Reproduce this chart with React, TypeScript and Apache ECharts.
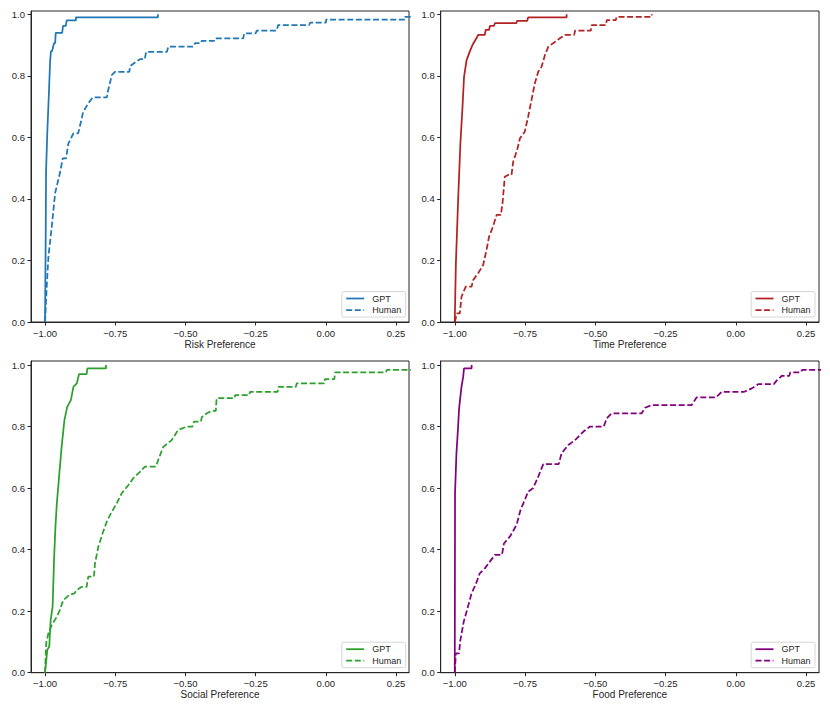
import React, { useEffect, useRef } from "react";
import * as echarts from "echarts";

// ---------- data (polyline vertices) ----------
const xTickValues = [-1.0, -0.75, -0.5, -0.25, 0.0, 0.25];
const yTickValues = [0.0, 0.2, 0.4, 0.6, 0.8, 1.0];
const panelTitles = ["Risk Preference", "Time Preference", "Social Preference", "Food Preference"];
const panelColors = ["#1f77b4", "#b22222", "#2ca02c", "#800080"];
const legendNames = ["GPT", "Human"];

const riskGptX = [-1.0, -0.9975, -0.9964, -0.9918, -0.9858, -0.982, -0.979, -0.975, -0.968, -0.964, -0.962, -0.939, -0.936, -0.926, -0.923, -0.89, -0.89, -0.598, -0.598];
const riskGptY = [0, 0.3, 0.49, 0.62, 0.754, 0.846, 0.88, 0.88, 0.906, 0.906, 0.94, 0.94, 0.962, 0.962, 0.98, 0.98, 0.99, 0.99, 1.0];
const riskHumanX = [-1.0, -0.994, -0.988, -0.976, -0.964, -0.947, -0.937, -0.925, -0.917, -0.905, -0.899, -0.882, -0.875, -0.864, -0.846, -0.83, -0.78, -0.775, -0.762, -0.751, -0.7, -0.697, -0.676, -0.662, -0.645, -0.64, -0.566, -0.561, -0.471, -0.466, -0.445, -0.442, -0.398, -0.395, -0.294, -0.291, -0.25, -0.246, -0.175, -0.17, -0.06, -0.056, 0.0, 0.001, 0.282, 0.282, 0.35];
const riskHumanY = [0, 0.115, 0.212, 0.31, 0.419, 0.484, 0.532, 0.532, 0.58, 0.602, 0.613, 0.613, 0.64, 0.683, 0.711, 0.73, 0.73, 0.754, 0.803, 0.813, 0.813, 0.832, 0.846, 0.854, 0.854, 0.878, 0.878, 0.895, 0.895, 0.906, 0.906, 0.914, 0.914, 0.922, 0.922, 0.938, 0.938, 0.947, 0.947, 0.965, 0.965, 0.973, 0.973, 0.983, 0.983, 0.992, 0.992];

const timeGptX = [-1.0, -0.996, -0.988, -0.98, -0.973, -0.967, -0.958, -0.947, -0.937, -0.923, -0.917, -0.893, -0.89, -0.878, -0.875, -0.861, -0.857, -0.781, -0.778, -0.742, -0.739, -0.602, -0.602];
const timeGptY = [0, 0.19, 0.396, 0.58, 0.689, 0.797, 0.851, 0.878, 0.9, 0.922, 0.933, 0.933, 0.949, 0.949, 0.962, 0.962, 0.971, 0.971, 0.979, 0.979, 0.99, 0.99, 1.0];
const timeHumanX = [-1.0, -0.992, -0.982, -0.976, -0.961, -0.94, -0.935, -0.917, -0.899, -0.887, -0.878, -0.864, -0.851, -0.836, -0.83, -0.822, -0.81, -0.798, -0.792, -0.778, -0.768, -0.751, -0.739, -0.727, -0.715, -0.703, -0.691, -0.679, -0.667, -0.65, -0.626, -0.608, -0.575, -0.572, -0.516, -0.513, -0.462, -0.459, -0.427, -0.424, -0.299, -0.299];
const timeHumanY = [0, 0.028, 0.028, 0.082, 0.115, 0.115, 0.136, 0.158, 0.185, 0.234, 0.277, 0.31, 0.348, 0.348, 0.386, 0.472, 0.478, 0.478, 0.521, 0.559, 0.597, 0.618, 0.667, 0.721, 0.776, 0.813, 0.83, 0.868, 0.895, 0.906, 0.922, 0.933, 0.933, 0.947, 0.947, 0.965, 0.965, 0.981, 0.981, 0.992, 0.992, 1.0];

const socialGptX = [-1.0, -0.992, -0.985, -0.98, -0.973, -0.968, -0.963, -0.958, -0.949, -0.941, -0.931, -0.921, -0.908, -0.899, -0.887, -0.879, -0.852, -0.849, -0.783, -0.783];
const socialGptY = [0, 0.074, 0.085, 0.171, 0.215, 0.366, 0.474, 0.55, 0.648, 0.734, 0.821, 0.864, 0.886, 0.929, 0.94, 0.97, 0.97, 0.989, 0.989, 1.0];
const socialHumanX = [-1.0, -0.996, -0.988, -0.976, -0.958, -0.947, -0.935, -0.913, -0.895, -0.887, -0.869, -0.852, -0.846, -0.826, -0.822, -0.81, -0.795, -0.778, -0.762, -0.745, -0.727, -0.703, -0.686, -0.662, -0.644, -0.605, -0.597, -0.579, -0.549, -0.526, -0.495, -0.475, -0.47, -0.445, -0.442, -0.424, -0.405, -0.392, -0.389, -0.326, -0.323, -0.273, -0.27, -0.172, -0.169, -0.107, -0.104, -0.006, -0.003, 0.03, 0.033, 0.214, 0.217, 0.35];
const socialHumanY = [0, 0.096, 0.128, 0.155, 0.182, 0.204, 0.236, 0.253, 0.258, 0.269, 0.279, 0.279, 0.312, 0.312, 0.356, 0.41, 0.453, 0.496, 0.523, 0.55, 0.583, 0.61, 0.632, 0.653, 0.67, 0.67, 0.691, 0.734, 0.756, 0.789, 0.8, 0.8, 0.816, 0.816, 0.83, 0.843, 0.851, 0.851, 0.892, 0.892, 0.902, 0.902, 0.913, 0.913, 0.929, 0.929, 0.94, 0.94, 0.954, 0.954, 0.976, 0.976, 0.984, 0.984];

const foodGptX = [-1.0, -0.9995, -0.999, -0.994, -0.988, -0.985, -0.98, -0.976, -0.97, -0.967, -0.94, -0.94];
const foodGptY = [0, 0.258, 0.583, 0.713, 0.8, 0.854, 0.897, 0.929, 0.962, 0.989, 0.989, 1.0];
const foodHumanX = [-1.0, -0.996, -0.985, -0.98, -0.968, -0.953, -0.94, -0.925, -0.911, -0.893, -0.875, -0.857, -0.832, -0.825, -0.804, -0.78, -0.766, -0.751, -0.739, -0.721, -0.703, -0.685, -0.63, -0.62, -0.596, -0.572, -0.543, -0.519, -0.47, -0.459, -0.442, -0.335, -0.323, -0.299, -0.157, -0.139, -0.07, -0.05, 0.03, 0.057, 0.081, 0.135, 0.146, 0.164, 0.19, 0.194, 0.23, 0.236, 0.35];
const foodHumanY = [0, 0.063, 0.063, 0.106, 0.166, 0.215, 0.258, 0.288, 0.323, 0.339, 0.361, 0.383, 0.383, 0.42, 0.442, 0.48, 0.529, 0.561, 0.588, 0.6, 0.637, 0.678, 0.678, 0.713, 0.74, 0.756, 0.783, 0.8, 0.8, 0.827, 0.843, 0.843, 0.861, 0.87, 0.87, 0.895, 0.895, 0.913, 0.913, 0.924, 0.938, 0.938, 0.95, 0.965, 0.965, 0.976, 0.976, 0.984, 0.984];

const gptXs = [riskGptX, timeGptX, socialGptX, foodGptX];
const gptYs = [riskGptY, timeGptY, socialGptY, foodGptY];
const humanXs = [riskHumanX, timeHumanX, socialHumanX, foodHumanX];
const humanYs = [riskHumanY, timeHumanY, socialHumanY, foodHumanY];

// ---------- layout ----------
const INK = "#262626";
const FONT = "'Liberation Sans', Arial, Helvetica, sans-serif";
const LW = 1.75;
const gridRects = [
  { left: 31, top: 11, width: 378, height: 311 },
  { left: 440.7, top: 11, width: 378.3, height: 311 },
  { left: 31, top: 361, width: 378, height: 311.7 },
  { left: 440.7, top: 361, width: 378.3, height: 311.7 },
];
const legendPos = [
  { right: 424.3, bottom: 395 },
  { right: 15, bottom: 395 },
  { right: 424.3, bottom: 44.3 },
  { right: 15, bottom: 44.3 },
];
const yMaxes = [1.0107, 1.0107, 1.013, 1.013];

const zip = (xs: number[], ys: number[]) => xs.map((x, i) => [x, ys[i]]);
const fmtX = (v: number) => {
  const s = Math.abs(v).toFixed(2);
  return v < -1e-9 ? "\u2212" + s : s;
};

function buildOption() {
  const grid: any[] = [];
  const xAxis: any[] = [];
  const yAxis: any[] = [];
  const legend: any[] = [];
  const series: any[] = [];
  for (let i = 0; i < 4; i++) {
    grid.push({
      ...gridRects[i],
      show: true,
      borderColor: INK,
      borderWidth: 1,
      backgroundColor: "transparent",
      containLabel: false,
    });
    xAxis.push({
      type: "value",
      gridIndex: i,
      min: -1.05,
      max: 0.296,
      name: panelTitles[i],
      nameLocation: "middle",
      nameGap: 17,
      nameTextStyle: { fontSize: 10, color: INK, fontFamily: FONT },
      axisLine: { show: true, onZero: false, lineStyle: { color: INK, width: 1 } },
      axisTick: { show: true, inside: false, length: 3.5, lineStyle: { color: INK, width: 1 }, customValues: xTickValues },
      axisLabel: { show: true, customValues: xTickValues, formatter: fmtX, fontSize: 9.5, color: INK, margin: 6, fontFamily: FONT },
      splitLine: { show: false },
    });
    yAxis.push({
      type: "value",
      gridIndex: i,
      min: 0,
      max: yMaxes[i],
      axisLine: { show: true, onZero: false, lineStyle: { color: INK, width: 1 } },
      axisTick: { show: true, inside: false, length: 3.5, lineStyle: { color: INK, width: 1 }, customValues: yTickValues },
      axisLabel: { show: true, customValues: yTickValues, formatter: (v: number) => v.toFixed(1), fontSize: 9.5, color: INK, margin: 6, fontFamily: FONT },
      splitLine: { show: false },
    });
    const gName = `${legendNames[0]}|${i}`;
    const hName = `${legendNames[1]}|${i}`;
    legend.push({
      ...legendPos[i],
      orient: "vertical",
      data: [gName, hName],
      formatter: (n: string) => n.split("|")[0],
      itemWidth: 18,
      itemHeight: 10,
      itemGap: 2.5,
      padding: [2.5, 4.5, 2.5, 3.5],
      borderColor: "#cccccc",
      borderWidth: 0.8,
      borderRadius: 2,
      backgroundColor: "rgba(255,255,255,0.8)",
      itemStyle: { opacity: 0, borderWidth: 0 },
      lineStyle: { width: LW },
      textStyle: { fontSize: 9, color: INK, fontFamily: FONT, padding: [0, 0, 0, 3] },
      selectedMode: false,
    });
    series.push({
      type: "line",
      name: gName,
      xAxisIndex: i,
      yAxisIndex: i,
      data: zip(gptXs[i], gptYs[i]),
      symbol: "none",
      clip: true,
      lineStyle: { color: panelColors[i], width: LW, type: "solid" },
      itemStyle: { color: panelColors[i] },
    });
    series.push({
      type: "line",
      name: hName,
      xAxisIndex: i,
      yAxisIndex: i,
      data: zip(humanXs[i], humanYs[i]),
      symbol: "none",
      clip: true,
      lineStyle: { color: panelColors[i], width: LW, type: [6, 2.6] },
      itemStyle: { color: panelColors[i] },
    });
  }
  return {
    animation: false,
    backgroundColor: "#ffffff",
    textStyle: { fontFamily: FONT },
    grid,
    xAxis,
    yAxis,
    legend,
    series,
  };
}

export default function App() {
  const ref = useRef<HTMLDivElement>(null);
  useEffect(() => {
    if (!ref.current) return;
    const chart = echarts.init(ref.current, undefined, { renderer: "svg" });
    chart.setOption(buildOption() as any);
    return () => chart.dispose();
  }, []);
  return (
    <div
      ref={ref}
      style={{ position: "fixed", left: 0, top: 0, width: 830, height: 712, background: "#fff" }}
    />
  );
}
